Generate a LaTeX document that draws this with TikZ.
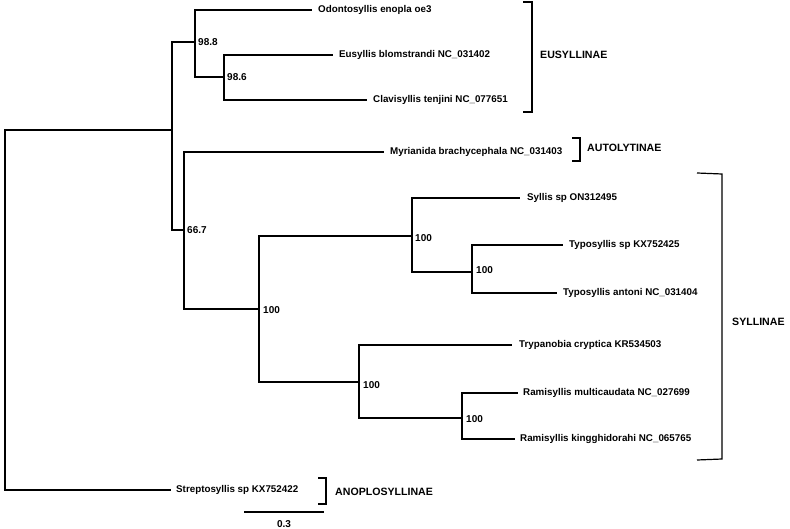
\documentclass[tikz,border=0pt]{standalone}
\usepackage{fontspec}
\setmainfont{Liberation Sans}
\begin{document}
\begin{tikzpicture}[x=1pt,y=-1pt,
  branch/.style={line width=2.6pt, line cap=rect},
  leaf/.style={anchor=west, inner sep=0pt, font=\bfseries\fontsize{9.8}{11}\selectfont},
  boot/.style={anchor=west, inner sep=0pt, font=\bfseries\fontsize{10}{11}\selectfont},
  clade/.style={anchor=west, inner sep=0pt, font=\bfseries\fontsize{10.6}{12}\selectfont},
  brk/.style={line width=1.2pt}]
\useasboundingbox (0,0) rectangle (790,529);
% internal nodes
\coordinate (root) at (5,310);
\coordinate (nA) at (172,130);
\coordinate (nEu) at (195,42);
\coordinate (nEu2) at (224,77);
\coordinate (nB) at (184,230);
\coordinate (nC) at (259,309);
\coordinate (nD) at (412,236);
\coordinate (nF) at (472,272);
\coordinate (nE) at (359,382);
\coordinate (nG) at (462,418);
% leaf line ends
\coordinate (eOd) at (311,10);
\coordinate (eEu) at (332,55);
\coordinate (eCl) at (366,100);
\coordinate (eMy) at (383,152);
\coordinate (eSy) at (519,198);
\coordinate (eTs) at (562,245);
\coordinate (eTa) at (556,293);
\coordinate (eTr) at (511,345);
\coordinate (eRm) at (517,393);
\coordinate (eRk) at (514,439);
\coordinate (eSt) at (170,490);
% leaf labels
\node[leaf] (lOd) at (318,10) {Odontosyllis enopla oe3};
\node[leaf] (lEu) at (339,55) {Eusyllis blomstrandi NC\_031402};
\node[leaf] (lCl) at (373,100) {Clavisyllis tenjini NC\_077651};
\node[leaf] (lMy) at (390,152) {Myrianida brachycephala NC\_031403};
\node[leaf] (lSy) at (527,198) {Syllis sp ON312495};
\node[leaf] (lTs) at (569,245) {Typosyllis sp KX752425};
\node[leaf] (lTa) at (563,293) {Typosyllis antoni NC\_031404};
\node[leaf] (lTr) at (519,345) {Trypanobia cryptica KR534503};
\node[leaf] (lRm) at (523,393) {Ramisyllis multicaudata NC\_027699};
\node[leaf] (lRk) at (520,439) {Ramisyllis kingghidorahi NC\_065765};
\node[leaf] (lSt) at (176,490) {Streptosyllis sp KX752422};
% tree
\draw[branch] (root) |- (nA);
\draw[branch] (root) |- (eSt);
\draw[branch] (nA) |- (nEu);
\draw[branch] (nA) |- (nB);
\draw[branch] (nEu) |- (eOd);
\draw[branch] (nEu) |- (nEu2);
\draw[branch] (nEu2) |- (eEu);
\draw[branch] (nEu2) |- (eCl);
\draw[branch] (nB) |- (eMy);
\draw[branch] (nB) |- (nC);
\draw[branch] (nC) |- (nD);
\draw[branch] (nC) |- (nE);
\draw[branch] (nD) |- (eSy);
\draw[branch] (nD) |- (nF);
\draw[branch] (nF) |- (eTs);
\draw[branch] (nF) |- (eTa);
\draw[branch] (nE) |- (eTr);
\draw[branch] (nE) |- (nG);
\draw[branch] (nG) |- (eRm);
\draw[branch] (nG) |- (eRk);
% bootstrap values
\node[boot] (bEu) at (198,42) {98.8};
\node[boot] (bEu2) at (227,77) {98.6};
\node[boot] (bB) at (187,230) {66.7};
\node[boot] (bC) at (263,310) {100};
\node[boot] (bD) at (415,238) {100};
\node[boot] (bF) at (476,270) {100};
\node[boot] (bE) at (363,385) {100};
\node[boot] (bG) at (466,419) {100};
% clade brackets
\coordinate (k1a) at (523,2); \coordinate (k1b) at (523,112);
\draw[brk] (k1a) -- ++(9,0) -- ++(0,110) -- (k1b);
\node[clade] (cEu) at (540,55) {EUSYLLINAE};
\coordinate (k2a) at (572,138); \coordinate (k2b) at (572,161);
\draw[brk] (k2a) -- ++(8,0) -- ++(0,23) -- (k2b);
\node[clade] (cAu) at (587,148) {AUTOLYTINAE};
\coordinate (k3a) at (697,173); \coordinate (k3b) at (697,460);
\draw[brk] (k3a) -- ++(25,1) -- ++(0,285) -- (k3b);
\node[clade] (cSy) at (732,322) {SYLLINAE};
\coordinate (k4a) at (318,478); \coordinate (k4b) at (318,504);
\draw[brk] (k4a) -- ++(8,0) -- ++(0,26) -- (k4b);
\node[clade] (cAn) at (335,492) {ANOPLOSYLLINAE};
% scale bar
\coordinate (s1) at (244,512); \coordinate (s2) at (324,512);
\draw[line width=2.6pt] (s1) -- (s2);
\node[boot, anchor=center] (sl) at (284,524) {0.3};
\end{tikzpicture}
\end{document}
